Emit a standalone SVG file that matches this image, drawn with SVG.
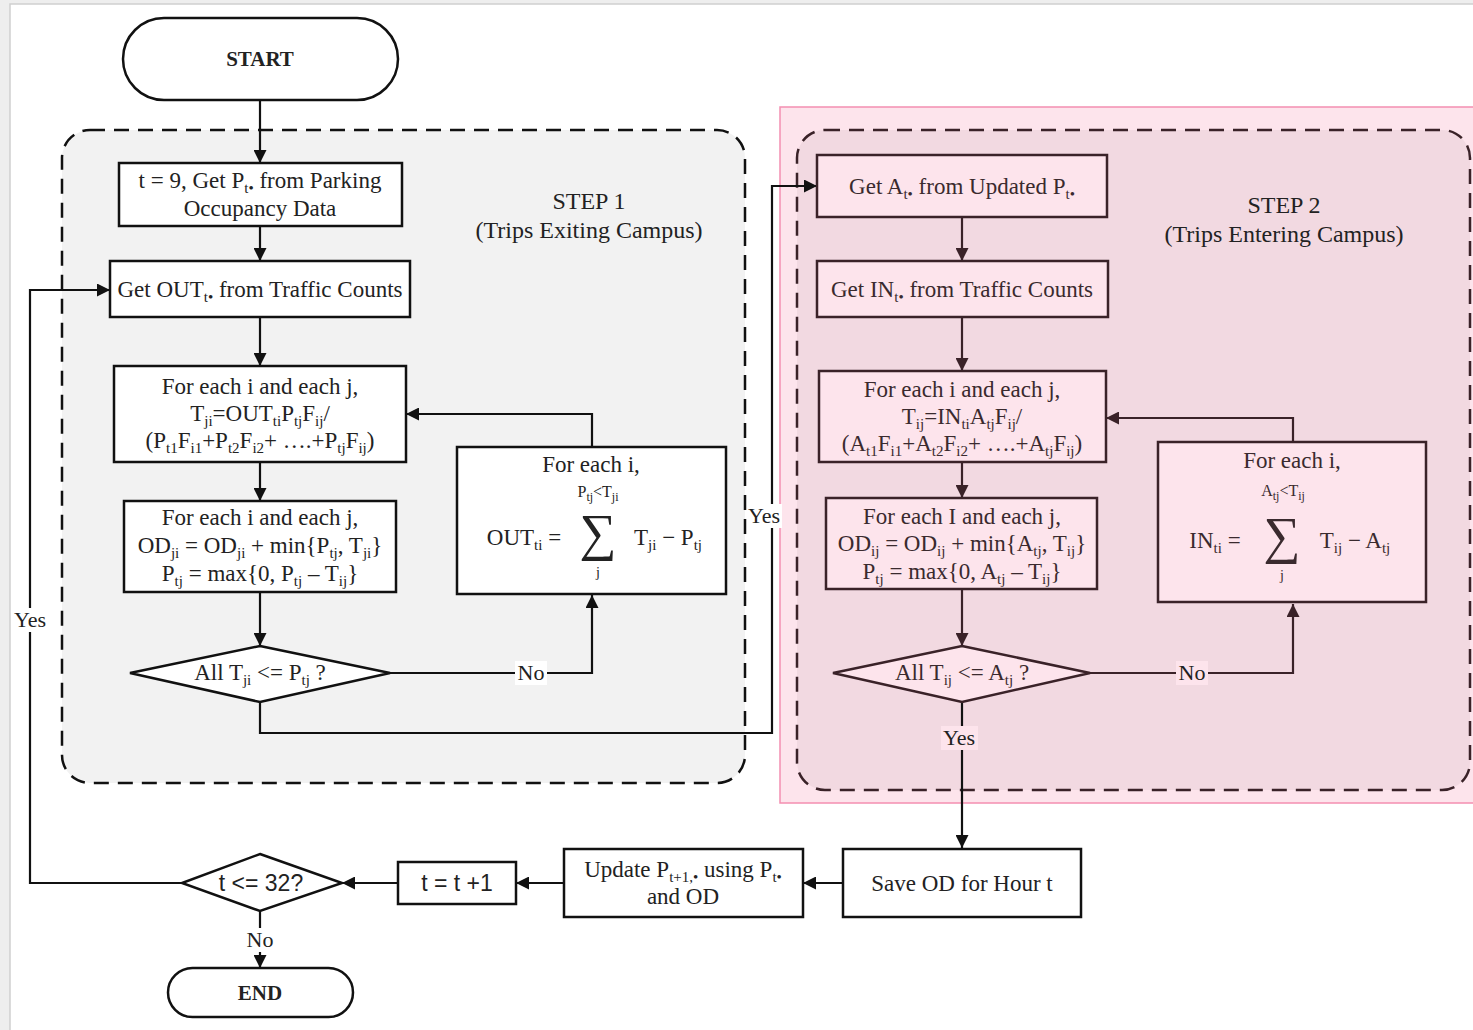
<svg xmlns="http://www.w3.org/2000/svg" width="1473" height="1030" viewBox="0 0 1473 1030">
<style>
text{font-family:"Liberation Serif","Times New Roman",serif;font-size:23px;fill:#222;text-anchor:middle}
.p text{fill:#3a2a2e}
.s{font-size:15px;baseline-shift:-5px}
.ss{font-size:12px;baseline-shift:-4px}
.b{font-weight:bold;font-size:21px}
.sans{font-family:"Liberation Sans",Arial,sans-serif;font-size:23px}
.lbl{font-size:22px}
.st{font-size:24px}
.sig{font-size:52px}
.nd{fill:#fff;stroke:#111;stroke-width:2.5}
.pn{fill:#fde4ec;stroke:#3a2228;stroke-width:2.5}
.c{fill:none;stroke:#111;stroke-width:2.2}
.cp{fill:none;stroke:#3a2228;stroke-width:2.2}
</style>
<defs>
<marker id="ah" viewBox="0 0 12 12" refX="12" refY="6" markerWidth="13" markerHeight="13" markerUnits="userSpaceOnUse" orient="auto"><path d="M0,0 L12,6 L0,12 z" fill="#111"/></marker>
<marker id="ahp" viewBox="0 0 12 12" refX="12" refY="6" markerWidth="13" markerHeight="13" markerUnits="userSpaceOnUse" orient="auto"><path d="M0,0 L12,6 L0,12 z" fill="#3a2228"/></marker>
</defs>
<rect x="0" y="0" width="1473" height="1030" fill="#eeeeee"/>
<rect x="10" y="4" width="1470" height="1040" fill="#ffffff" stroke="#cfcfcf" stroke-width="1.5"/>
<g id="step1-region">
<rect x="62" y="130" width="683" height="653" rx="28" fill="#f2f2f2" stroke="#111" stroke-width="2.5" stroke-dasharray="15,9"/>
<text class="st" x="589" y="209">STEP 1</text>
<text class="st" x="589" y="238">(Trips Exiting Campus)</text>
</g>
<g id="step2-region">
<rect x="780" y="107" width="700" height="696" fill="#fde4ec" stroke="#f48fb1" stroke-width="1.5"/>
<rect x="797" y="130" width="673" height="660" rx="28" fill="#f2d9e1" stroke="#3a2228" stroke-width="2.5" stroke-dasharray="15,9"/>
<text class="st" x="1284" y="213" fill="#3a2a2e">STEP 2</text>
<text class="st" x="1284" y="242" fill="#3a2a2e">(Trips Entering Campus)</text>
</g>
<g id="connectors">
<path class="c" d="M260,100 V163" marker-end="url(#ah)"/>
<path class="c" d="M260,226 V261" marker-end="url(#ah)"/>
<path class="c" d="M260,317 V366" marker-end="url(#ah)"/>
<path class="c" d="M260,462 V501" marker-end="url(#ah)"/>
<path class="c" d="M260,592 V646" marker-end="url(#ah)"/>
<path class="c" d="M390,673 H592 V595" marker-end="url(#ah)"/>
<path class="c" d="M592,447 V414 H406" marker-end="url(#ah)"/>
<path class="c" d="M260,702 V733 H772 V186 H817" marker-end="url(#ah)"/>
<path class="cp" d="M962,217 V261" marker-end="url(#ahp)"/>
<path class="cp" d="M962,317 V371" marker-end="url(#ahp)"/>
<path class="cp" d="M962,462 V498" marker-end="url(#ahp)"/>
<path class="cp" d="M962,589 V646" marker-end="url(#ahp)"/>
<path class="cp" d="M1090,673 H1293 V604" marker-end="url(#ahp)"/>
<path class="cp" d="M1293,442 V418 H1106" marker-end="url(#ahp)"/>
<path class="c" d="M962,702 V848" marker-end="url(#ah)"/>
<path class="c" d="M843,883 H803" marker-end="url(#ah)"/>
<path class="c" d="M564,883 H516" marker-end="url(#ah)"/>
<path class="c" d="M398,883 H342" marker-end="url(#ah)"/>
<path class="c" d="M260,911 V968" marker-end="url(#ah)"/>
<path class="c" d="M182,883 H30 V290 H110" marker-end="url(#ah)"/>
<rect x="515" y="661" width="32" height="24" fill="#fff"/>
<text class="lbl" x="531" y="680">No</text>
<rect x="747" y="504" width="35" height="24" fill="#fff"/>
<text class="lbl" x="764" y="523">Yes</text>
<rect x="1176" y="661" width="32" height="24" fill="#fde4ec"/>
<text class="lbl" x="1192" y="680" fill="#3a2a2e">No</text>
<rect x="941" y="726" width="37" height="24" fill="#fde4ec"/>
<text class="lbl" x="959" y="745" fill="#3a2a2e">Yes</text>
<rect x="12" y="608" width="36" height="24" fill="#fff"/>
<text class="lbl" x="30" y="627">Yes</text>
<rect x="244" y="928" width="32" height="24" fill="#fff"/>
<text class="lbl" x="260" y="947">No</text>
</g>
<g id="start">
<rect class="nd" x="123" y="18" width="275" height="82" rx="41"/>
<text class="b" x="260" y="66">START</text>
</g>
<g id="init">
<rect class="nd" x="119" y="163" width="283" height="63"/>
<text x="260" y="188">t = 9, Get P<tspan class="s">t•</tspan> from Parking</text>
<text x="260" y="216">Occupancy Data</text>
</g>
<g id="get-out">
<rect class="nd" x="110" y="261" width="300" height="56"/>
<text x="260" y="297">Get OUT<tspan class="s">t•</tspan> from Traffic Counts</text>
</g>
<g id="trips-out">
<rect class="nd" x="114" y="366" width="292" height="96"/>
<text x="260" y="394">For each i and each j,</text>
<text x="260" y="421">T<tspan class="s">ji</tspan>=OUT<tspan class="s">ti</tspan>P<tspan class="s">tj</tspan>F<tspan class="s">ij</tspan>/</text>
<text x="260" y="448">(P<tspan class="s">t1</tspan>F<tspan class="s">i1</tspan>+P<tspan class="s">t2</tspan>F<tspan class="s">i2</tspan>+ ….+P<tspan class="s">tj</tspan>F<tspan class="s">ij</tspan>)</text>
</g>
<g id="od-out">
<rect class="nd" x="124" y="501" width="272" height="91"/>
<text x="260" y="525">For each i and each j,</text>
<text x="260" y="553">OD<tspan class="s">ji</tspan> = OD<tspan class="s">ji</tspan> + min{P<tspan class="s">tj</tspan>, T<tspan class="s">ji</tspan>}</text>
<text x="260" y="581">P<tspan class="s">tj</tspan> = max{0, P<tspan class="s">tj</tspan> – T<tspan class="s">ij</tspan>}</text>
</g>
<g id="check-out">
<polygon class="nd" points="260,646 390,673 260,702 130,673"/>
<text x="260" y="680">All T<tspan class="s">ji</tspan> &lt;= P<tspan class="s">tj</tspan> ?</text>
</g>
<g id="out-formula">
<rect class="nd" x="457" y="447" width="269" height="147"/>
<text x="591" y="472">For each i,</text>
<text x="598" y="497" style="font-size:16px">P<tspan class="ss">tj</tspan>&lt;T<tspan class="ss">ji</tspan></text>
<text class="sig" x="598" y="550">∑</text>
<text x="598" y="577" style="font-size:14px">j</text>
<text x="524" y="545">OUT<tspan class="s">ti</tspan> =</text>
<text x="668" y="545">T<tspan class="s">ji</tspan> − P<tspan class="s">tj</tspan></text>
</g>
<g id="get-a" class="p">
<rect class="pn" x="817" y="155" width="290" height="62"/>
<text x="962" y="194">Get A<tspan class="s">t•</tspan> from Updated P<tspan class="s">t•</tspan></text>
</g>
<g id="get-in" class="p">
<rect class="pn" x="817" y="261" width="291" height="56"/>
<text x="962" y="297">Get IN<tspan class="s">t•</tspan> from Traffic Counts</text>
</g>
<g id="trips-in" class="p">
<rect class="pn" x="819" y="371" width="287" height="91"/>
<text x="962" y="397">For each i and each j,</text>
<text x="962" y="424">T<tspan class="s">ij</tspan>=IN<tspan class="s">ti</tspan>A<tspan class="s">tj</tspan>F<tspan class="s">ij</tspan>/</text>
<text x="962" y="451">(A<tspan class="s">t1</tspan>F<tspan class="s">i1</tspan>+A<tspan class="s">t2</tspan>F<tspan class="s">i2</tspan>+ ….+A<tspan class="s">tj</tspan>F<tspan class="s">ij</tspan>)</text>
</g>
<g id="od-in" class="p">
<rect class="pn" x="826" y="498" width="271" height="91"/>
<text x="962" y="524">For each I and each j,</text>
<text x="962" y="551">OD<tspan class="s">ij</tspan> = OD<tspan class="s">ij</tspan> + min{A<tspan class="s">tj</tspan>, T<tspan class="s">ij</tspan>}</text>
<text x="962" y="579">P<tspan class="s">tj</tspan> = max{0, A<tspan class="s">tj</tspan> – T<tspan class="s">ij</tspan>}</text>
</g>
<g id="check-in" class="p">
<polygon class="pn" points="962,646 1090,673 962,702 833,673"/>
<text x="962" y="680">All T<tspan class="s">ij</tspan> &lt;= A<tspan class="s">tj</tspan> ?</text>
</g>
<g id="in-formula" class="p">
<rect class="pn" x="1158" y="442" width="268" height="160"/>
<text x="1292" y="468">For each i,</text>
<text x="1283" y="496" style="font-size:16px">A<tspan class="ss">tj</tspan>&lt;T<tspan class="ss">ij</tspan></text>
<text class="sig" x="1282" y="553">∑</text>
<text x="1282" y="580" style="font-size:14px">j</text>
<text x="1215" y="548">IN<tspan class="s">ti</tspan> =</text>
<text x="1355" y="548">T<tspan class="s">ij</tspan> − A<tspan class="s">tj</tspan></text>
</g>
<g id="save-od">
<rect class="nd" x="843" y="849" width="238" height="68"/>
<text x="962" y="891">Save OD for Hour t</text>
</g>
<g id="update-p">
<rect class="nd" x="564" y="849" width="239" height="68"/>
<text x="683" y="877">Update P<tspan class="s">t+1,•</tspan> using P<tspan class="s">t•</tspan></text>
<text x="683" y="904">and OD</text>
</g>
<g id="increment">
<rect class="nd" x="398" y="862" width="118" height="42"/>
<text class="sans" x="457" y="891">t = t +1</text>
</g>
<g id="check-t">
<polygon class="nd" points="260,854 342,883 260,911 182,883"/>
<text class="sans" x="261" y="891">t &lt;= 32?</text>
</g>
<g id="end">
<rect class="nd" x="168" y="968" width="185" height="49" rx="24.5"/>
<text class="b" x="260" y="1000">END</text>
</g>
</svg>
